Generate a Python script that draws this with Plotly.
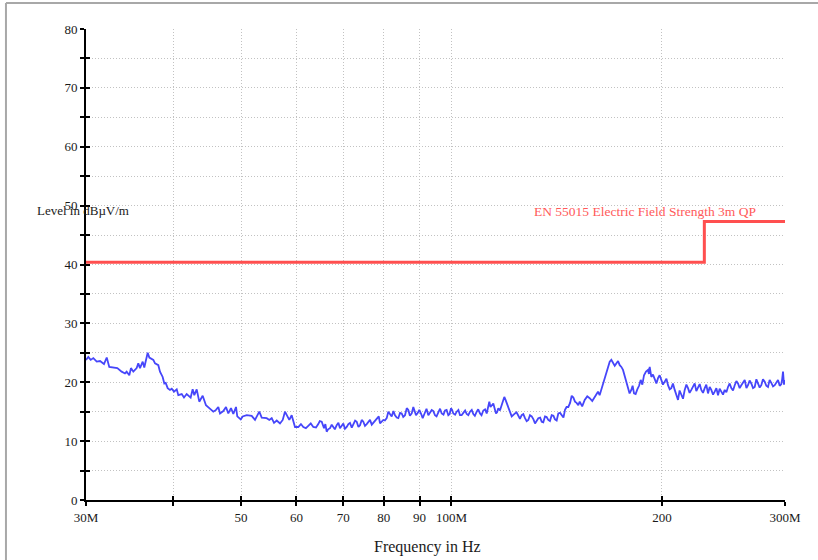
import plotly.graph_objects as go
import math

# ---- data ----
freq_mhz = [30.00, 30.23, 30.47, 30.73, 31.08, 31.42, 31.83, 32.12, 32.39, 33.01, 33.26, 33.74, 34.11, 34.30,
            34.60, 34.79, 35.06, 35.45, 35.64, 35.84, 36.16, 36.35, 36.76, 36.96, 37.45, 37.66, 38.07, 38.28,
            38.62, 38.83, 39.01, 39.26, 39.56, 39.79, 40.09, 40.45, 40.66, 41.12, 41.43, 41.80, 42.35, 42.63,
            42.86, 43.20, 43.57, 44.06, 44.54, 45.03, 45.63, 46.04, 46.39, 46.65, 47.16, 47.58, 47.94, 48.37,
            48.74, 49.17, 49.38, 49.94, 50.27, 50.94, 51.78, 52.35, 53.09, 53.52, 54.40, 54.87, 55.31, 55.73,
            56.23, 56.84, 57.35, 57.78, 58.22, 58.61, 59.07, 59.72, 60.37, 61.38, 62.39, 63.43, 64.48, 65.21,
            65.71, 66.29, 67.02, 67.75, 68.51, 69.26, 70.02, 70.81, 71.58, 72.36, 73.18, 73.98, 74.79, 75.63,
            76.46, 77.29, 78.32, 79.02, 79.88, 80.78, 81.21, 82.12, 83.02, 83.93, 84.87, 85.80, 86.74, 87.72,
            88.18, 88.97, 89.94, 90.95, 91.64, 92.65, 93.69, 94.71, 95.75, 96.83, 97.89, 98.96, 99.84, 100.60,
            101.73, 102.84, 103.97, 105.14, 106.29, 107.45, 108.66, 109.85, 111.05, 112.30, 113.27, 114.16,
            114.77, 115.79, 116.67, 117.99, 119.00, 119.95, 120.98, 121.94, 123.27, 124.62, 126.02, 127.40,
            128.79, 130.24, 131.67, 133.11, 134.61, 136.08, 137.56, 139.11, 140.63, 142.17, 143.77, 145.34,
            146.93, 148.59, 150.21, 151.85, 152.56, 155.09, 157.66, 160.28, 162.03, 163.81, 165.27, 166.53,
            168.40, 170.24, 172.10, 174.04, 175.94, 177.28, 178.87, 180.82, 182.44, 184.43, 186.51, 188.55,
            191.05, 192.12, 193.14, 195.31, 197.45, 199.60, 201.85, 204.06, 206.29, 208.61, 210.89, 213.20,
            215.60, 217.96, 220.34, 222.82, 225.25, 227.72, 230.28, 232.80, 235.34, 237.99, 240.60, 243.23,
            245.96, 248.65, 251.37, 254.20, 256.98, 259.79, 262.72, 265.59, 268.49, 271.51, 274.48, 277.48,
            280.61, 283.67, 286.77, 290.00, 293.17, 296.38, 298.04, 299.72]
level_dbuv = [23.8, 24.3, 23.8, 24.1, 23.5, 23.6, 23.1, 24.2, 22.6, 22.5, 22.4, 21.8, 21.5, 21.8,
              21.2, 22.4, 21.8, 22.4, 23.2, 22.4, 23.5, 22.5, 25.0, 24.2, 23.8, 23.2, 22.9, 21.8,
              20.9, 19.8, 19.9, 19.0, 18.7, 18.9, 18.4, 18.8, 17.8, 18.0, 17.4, 18.0, 17.4, 18.8,
              17.8, 18.8, 16.7, 17.7, 16.1, 15.6, 15.0, 15.3, 15.8, 14.7, 15.1, 15.8, 14.7, 15.6,
              14.6, 15.8, 14.2, 13.7, 14.2, 14.4, 14.3, 13.6, 15.0, 14.0, 13.9, 13.6, 13.9, 13.1,
              13.5, 13.0, 13.6, 15.0, 14.2, 13.6, 14.4, 12.4, 12.4, 12.4, 12.6, 12.4, 12.9, 13.3,
              12.2, 11.6, 12.2, 12.4, 12.7, 12.2, 13.0, 12.4, 13.1, 12.9, 13.3, 12.7, 13.3, 12.9,
              13.6, 13.1, 13.9, 13.0, 13.6, 13.9, 15.0, 14.2, 14.4, 13.9, 14.7, 14.4, 15.3, 14.7,
              15.8, 14.4, 15.3, 13.9, 15.0, 14.4, 15.3, 14.4, 15.0, 14.7, 15.2, 14.4, 15.6, 14.7,
              15.0, 14.4, 14.8, 14.6, 15.0, 14.6, 15.0, 14.7, 15.2, 14.7, 16.7, 16.1,
              16.4, 14.7, 15.6, 16.1, 17.5, 16.4, 15.3, 14.2, 14.7, 14.2, 14.4, 13.9,
              13.6, 14.2, 13.0, 13.9, 13.3, 14.2, 13.6, 14.4, 13.7, 14.7, 14.4, 15.3,
              15.8, 17.7, 16.7, 16.1, 16.7, 17.0, 17.3, 17.5, 18.4, 18.7, 20.4, 21.5,
              23.5, 23.3, 23.2, 22.9, 22.1, 20.4, 19.0, 18.7, 18.1, 18.8, 20.4, 21.2,
              22.1, 22.6, 20.9, 20.4, 20.7, 20.4, 20.1, 19.5, 19.0, 18.7, 17.0, 17.8,
              18.7, 19.0, 18.7, 19.8, 19.2, 18.7, 19.0, 18.1, 18.7, 18.4, 17.8, 18.4,
              18.7, 19.2, 19.0, 19.5, 19.8, 19.5, 20.4, 19.5, 19.8, 19.2, 19.9, 19.5,
              20.1, 19.2, 19.9, 19.5, 20.4, 19.7, 21.8, 20.4]

# extra ripple readings (the trace is densely sampled and jagged)
freq_ripple = [60.9, 61.9, 62.9, 64.0, 64.8, 66.0, 66.6, 67.4, 68.1, 68.9, 69.6, 70.4, 71.2, 72.0,
               72.8, 73.6, 74.4, 75.2, 76.0, 76.9, 77.8, 78.7, 79.4, 80.3, 81.7, 82.6, 83.5, 84.4,
               85.3, 86.3, 87.2, 88.6, 89.5, 90.5, 91.3, 92.1, 93.2, 94.2, 95.2, 96.3, 97.4, 98.4,
               99.4, 100.2, 101.2, 102.3, 103.4, 104.6, 105.7, 106.9, 108.0, 109.2, 110.4, 111.7,
               113.7, 115.3, 116.2, 117.3, 118.5, 119.5, 120.5, 121.4, 122.6, 123.9, 125.3, 126.7,
               128.1, 129.5, 131.0, 132.4, 133.9, 135.3, 136.8, 138.3, 139.9, 141.4, 143.0, 144.6,
               146.1, 147.8, 149.4, 151.0,
               153.8, 156.4, 159.0, 161.2, 162.9, 164.5, 167.5, 169.3, 171.2, 173.1, 175.0, 176.6, 178.1,
               179.8, 181.6, 183.4, 185.5, 187.5, 189.8, 191.6, 194.2, 196.4, 198.5, 200.7, 203.0, 205.2,
               207.4, 209.7, 212.0, 214.4, 216.8, 219.1, 221.6, 224.0, 226.5, 229.0, 231.5, 234.1, 236.7,
               239.3, 241.9, 244.6, 247.3, 250.0, 252.8, 255.6, 258.4, 261.3, 264.2, 267.0, 270.0, 273.0,
               276.0, 279.0, 282.1, 285.2, 288.4, 291.6, 294.8, 297.2, 299.0]
level_ripple = [12.9, 12.2, 13.0, 12.3, 13.4, 12.9, 12.0, 12.8, 12.0, 13.1, 12.6, 12.1, 12.9, 12.3,
                13.5, 12.4, 13.6, 12.6, 13.2, 12.8, 13.4, 14.2, 13.3, 13.5, 14.5, 15.1, 14.0, 14.8,
                14.1, 15.6, 14.3, 15.2, 14.8, 14.6, 14.4, 15.5, 14.9, 15.1, 14.2, 15.5, 14.5, 15.3,
                14.6, 15.3, 14.5, 15.3, 14.4, 15.2, 14.4, 15.3, 14.3, 15.4, 14.4, 15.4,
                15.8, 15.5, 14.9, 15.2, 16.6, 17.0, 15.8, 14.8, 14.5, 14.9, 13.8, 14.6,
                13.4, 14.4, 13.7, 13.6, 14.0, 13.2, 14.1, 13.4, 14.3, 13.5, 14.8, 14.0,
                15.8, 16.5, 17.4, 16.5,
                15.9, 17.6, 16.8, 17.9, 17.8, 19.6, 22.4, 23.8, 22.8, 23.6, 22.6, 21.4, 19.8,
                18.1, 19.4, 18.0, 19.4, 19.6, 21.8, 21.4, 21.3, 19.8, 21.2, 19.6, 20.6, 18.8,
                19.8, 18.0, 18.6, 17.2, 19.6, 18.2, 19.4, 18.5, 19.7, 18.2, 19.6, 19.2, 17.9,
                19.0, 18.9, 17.9, 18.3, 19.8, 18.6, 20.2, 19.0, 20.0, 19.0, 20.3, 19.0, 20.5,
                19.1, 20.5, 19.4, 20.4, 19.3, 19.9, 19.4, 20.5, 19.6]

limit_freq = [30, 230, 230, 300]
limit_level = [40.4, 40.4, 47.3, 47.3]
limit_name = "EN 55015 Electric Field Strength 3m QP"

x_tickvals = [30, 40, 50, 60, 70, 80, 90, 100, 200, 300]
x_ticktext = ["30M", "", "50", "60", "70", "80", "90", "100M", "200", "300M"]
y_tickvals = list(range(0, 85, 5))
y_ticktext = [str(v) if v % 10 == 0 else "" for v in y_tickvals]

# ---- figure ----
pts = sorted(zip(freq_mhz + freq_ripple, level_dbuv + level_ripple))
fx = [p[0] for p in pts]
fy = [p[1] for p in pts]

FONT = "Liberation Serif, Times New Roman, serif"
TXT = "#1a1a1a"
fig = go.Figure()
fig.add_trace(go.Scatter(x=limit_freq, y=limit_level, mode="lines",
                         line=dict(color="#ff4f4f", width=3), hoverinfo="skip"))
fig.add_trace(go.Scatter(x=fx, y=fy, mode="lines",
                         line=dict(color="#4646fa", width=1.8), hoverinfo="skip"))
# invisible trace for inner tick axes
fig.add_trace(go.Scatter(x=[30, 300], y=[0, 80], mode="markers", marker=dict(opacity=0),
                         xaxis="x2", yaxis="y2", hoverinfo="skip"))

xr = [math.log10(30), math.log10(300)]
common_x = dict(type="log", range=xr, tickvals=x_tickvals, fixedrange=True)
common_y = dict(range=[0, 80], tickvals=y_tickvals, fixedrange=True)
grid = dict(showgrid=True, gridcolor="#c2c2c2", griddash="1px,2px", gridwidth=1)

fig.update_layout(
    width=818, height=560,
    margin=dict(l=86, r=33, t=29, b=60),
    paper_bgcolor="white", plot_bgcolor="white",
    showlegend=False,
    font=dict(family=FONT, size=13, color=TXT),
    xaxis=dict(**common_x, **grid, ticktext=x_ticktext, ticks="outside", ticklen=4, tickwidth=2,
               tickcolor="black", showline=True, linecolor="black", linewidth=2,
               zeroline=False, tickfont=dict(family=FONT, size=13, color=TXT)),
    yaxis=dict(**common_y, **grid, ticktext=y_ticktext, ticks="outside", ticklen=4, tickwidth=2,
               tickcolor="black", showline=True, linecolor="black", linewidth=2,
               zeroline=False, tickfont=dict(family=FONT, size=13, color=TXT)),
    xaxis2=dict(**common_x, overlaying="x", anchor="y2", side="bottom", ticks="inside",
                ticklen=4, tickwidth=2, tickcolor="black", showticklabels=False,
                showgrid=False, showline=False, zeroline=False),
    yaxis2=dict(**common_y, overlaying="y", anchor="x2", side="left", ticks="inside",
                ticklen=4, tickwidth=2, tickcolor="black", showticklabels=False,
                showgrid=False, showline=False, zeroline=False),
)

fig.add_annotation(text="Level in dBµV/m", xref="paper", yref="paper", x=-0.073, y=0.6136,
                   xanchor="left", yanchor="middle", showarrow=False,
                   font=dict(family=FONT, size=13, color=TXT))
fig.add_annotation(text="Frequency in Hz", xref="paper", yref="paper", x=0.489, y=-0.0998,
                   xanchor="center", yanchor="middle", showarrow=False,
                   font=dict(family=FONT, size=16, color=TXT))
fig.add_annotation(text=limit_name, xref="paper", yref="paper", x=0.962, y=0.613,
                   xanchor="right", yanchor="middle", showarrow=False,
                   font=dict(family=FONT, size=13.5, color="#ff5a5a"))

# page frame (top and left edges visible)
fig.add_shape(type="line", xref="paper", yref="paper", x0=-0.1145, x1=1.08, y0=1.0552, y1=1.0552,
              line=dict(color="#a8a8a8", width=2), layer="above")
fig.add_shape(type="line", xref="paper", yref="paper", x0=-0.1145, x1=-0.1145, y0=1.0552, y1=-0.15,
              line=dict(color="#a8a8a8", width=2), layer="above")

fig.write_html("out.html")
